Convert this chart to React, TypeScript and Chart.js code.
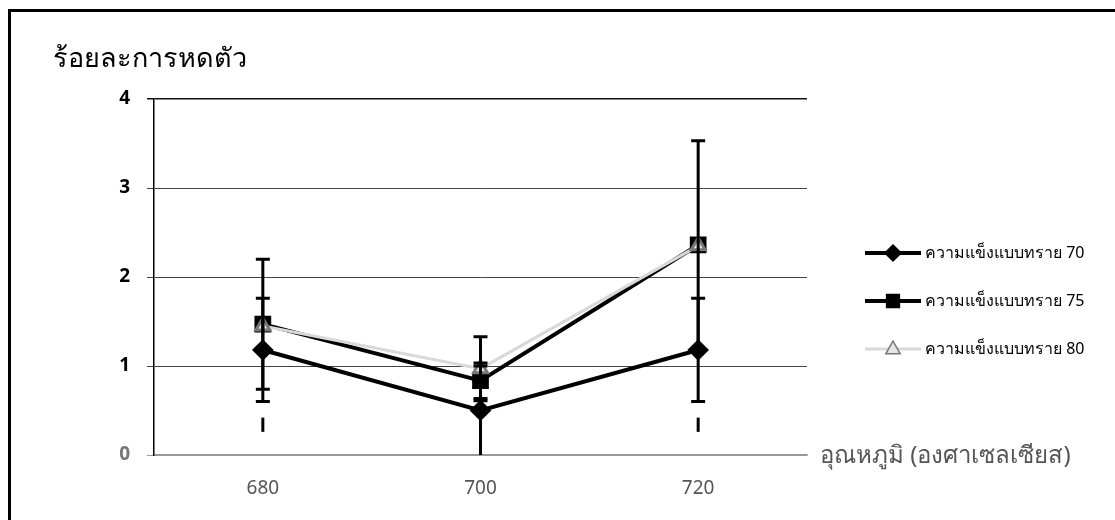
import React, { useEffect, useRef } from "react";
import { Chart, registerables } from "chart.js";

Chart.register(...registerables);

const categories = ["680", "700", "720"];
const seriesNames = ["ความแข็งแบบทราย 70", "ความแข็งแบบทราย 75", "ความแข็งแบบทราย 80"];
const s70 = [1.18, 0.5, 1.18];
const s75 = [1.47, 0.835, 2.36];
const s80 = [1.45, 0.97, 2.35];
const err70 = [0.58, 0.5, 0.58];
const err75 = [0.73, 0.2, 1.17];
const err80 = [0, 0.36, 0];
const strayLow = [0.26, null, 0.26];
const strayHigh = [0.42, null, 0.42];
const yTicks = [0, 1, 2, 3, 4];
const yTitle = "ร้อยละการหดตัว";
const xTitle = "อุณหภูมิ (องศาเซลเซียส)";

const FONT = "'Noto Sans', 'DejaVu Sans', sans-serif";

function drawMarker(ctx: CanvasRenderingContext2D, style: string, x: number, y: number, r: number, fill: string, stroke: string) {
  ctx.save();
  ctx.beginPath();
  if (style === "rectRot") {
    ctx.moveTo(x, y - r);
    ctx.lineTo(x + r, y);
    ctx.lineTo(x, y + r);
    ctx.lineTo(x - r, y);
    ctx.closePath();
  } else if (style === "rect") {
    ctx.rect(x - r * 0.8, y - r * 0.8, r * 1.6, r * 1.6);
  } else {
    ctx.moveTo(x, y - r);
    ctx.lineTo(x + r * 0.9, y + r * 0.6);
    ctx.lineTo(x - r * 0.9, y + r * 0.6);
    ctx.closePath();
  }
  ctx.fillStyle = fill;
  ctx.fill();
  ctx.lineWidth = 1.5;
  ctx.strokeStyle = stroke;
  ctx.stroke();
  ctx.restore();
}

const extras = {
  id: "extras",
  afterDatasetsDraw(chart: any) {
    const ctx: CanvasRenderingContext2D = chart.ctx;
    const xs = chart.scales.x;
    const ys = chart.scales.y;
    const sets = [
      { v: s70, e: err70 },
      { v: s75, e: err75 },
      { v: s80, e: err80 },
    ];
    ctx.save();
    ctx.strokeStyle = "#000";
    ctx.lineWidth = 3;
    sets.forEach((s) => {
      s.v.forEach((v, i) => {
        const e = s.e[i];
        if (!e) return;
        const x = xs.getPixelForValue(i);
        const yTop = ys.getPixelForValue(v + e);
        const yBot = ys.getPixelForValue(Math.max(0, v - e));
        ctx.beginPath();
        ctx.moveTo(x, yTop);
        ctx.lineTo(x, yBot);
        ctx.moveTo(x - 7, yTop);
        ctx.lineTo(x + 7, yTop);
        if (v - e > 0.001) {
          ctx.moveTo(x - 7, yBot);
          ctx.lineTo(x + 7, yBot);
        }
        ctx.stroke();
      });
    });
    strayLow.forEach((lo, i) => {
      const hi = strayHigh[i];
      if (lo == null || hi == null) return;
      const x = xs.getPixelForValue(i);
      ctx.beginPath();
      ctx.moveTo(x, ys.getPixelForValue(lo));
      ctx.lineTo(x, ys.getPixelForValue(hi));
      ctx.stroke();
    });
    ctx.restore();
  },
  afterDraw(chart: any) {
    const ctx: CanvasRenderingContext2D = chart.ctx;
    const ys = chart.scales.y;
    ctx.save();
    // frame
    ctx.strokeStyle = "#000";
    ctx.lineWidth = 3;
    ctx.beginPath();
    ctx.moveTo(9.5, 520);
    ctx.lineTo(9.5, 10.5);
    ctx.lineTo(1115, 10.5);
    ctx.stroke();
    // titles
    ctx.fillStyle = "#000";
    ctx.font = `27px ${FONT}`;
    ctx.textBaseline = "alphabetic";
    ctx.textAlign = "left";
    ctx.fillText(yTitle, 53, 67);
    ctx.fillStyle = "#555";
    ctx.font = `24px ${FONT}`;
    ctx.textBaseline = "middle";
    ctx.fillText(xTitle, 820, ys.getPixelForValue(0) + 1);
    // legend
    const ds = chart.data.datasets;
    const rows = [253, 301, 349];
    ds.forEach((d: any, i: number) => {
      const y = rows[i];
      ctx.strokeStyle = d.borderColor;
      ctx.lineWidth = d.borderWidth;
      ctx.beginPath();
      ctx.moveTo(865, y);
      ctx.lineTo(921, y);
      ctx.stroke();
      drawMarker(ctx, d.pointStyle, 893, y, 8, d.pointBackgroundColor, d.pointBorderColor);
      ctx.fillStyle = "#000";
      ctx.font = `16px ${FONT}`;
      ctx.textBaseline = "middle";
      ctx.textAlign = "left";
      ctx.fillText(d.label, 925, y);
    });
    ctx.restore();
  },
};

export default function App() {
  const ref = useRef<HTMLCanvasElement | null>(null);
  useEffect(() => {
    if (!ref.current) return;
    const chart = new Chart(ref.current, {
      type: "line",
      data: {
        labels: categories,
        datasets: [
          {
            label: seriesNames[0],
            data: s70,
            borderColor: "#000",
            borderWidth: 4,
            pointStyle: "rectRot",
            pointRadius: 8,
            pointBackgroundColor: "#000",
            pointBorderColor: "#000",
            order: 2,
          },
          {
            label: seriesNames[1],
            data: s75,
            borderColor: "#000",
            borderWidth: 4,
            pointStyle: "rect",
            pointRadius: 9,
            pointBackgroundColor: "#000",
            pointBorderColor: "#000",
            order: 1,
          },
          {
            label: seriesNames[2],
            data: s80,
            borderColor: "#d9d9d9",
            borderWidth: 3,
            pointStyle: "triangle",
            pointRadius: 8,
            pointBackgroundColor: "#e6e6e6",
            pointBorderColor: "#777",
            order: 0,
          },
        ] as any,
      },
      options: {
        animation: false,
        responsive: true,
        maintainAspectRatio: false,
        layout: { padding: { top: 99, right: 308, left: 0, bottom: 0 } },
        plugins: { legend: { display: false }, tooltip: { enabled: false }, title: { display: false } },
        scales: {
          x: {
            type: "category",
            offset: true,
            grid: { display: false },
            border: { color: "#999", width: 1.5 },
            ticks: { color: "#555", font: { family: FONT, size: 19 }, padding: 14 },
            afterFit: (s: any) => {
              s.height = 65;
            },
          },
          y: {
            min: 0,
            max: 4,
            afterBuildTicks: (s: any) => {
              s.ticks = yTicks.map((v) => ({ value: v }));
            },
            border: { color: "#000", width: 1.5 },
            grid: {
              color: (c: any) => (c.tick && c.tick.value === 4 ? "#111" : c.tick && c.tick.value === 0 ? "#999" : "#444"),
              lineWidth: (c: any) => (c.tick && c.tick.value === 4 ? 1.5 : 1),
              tickLength: 7,
            },
            ticks: {
              color: (c: any) => (c.tick && c.tick.value === 0 ? "#777" : "#000"),
              font: { family: FONT, size: 19, weight: "bold" },
              padding: 17,
            },
            afterFit: (s: any) => {
              s.width = 154;
            },
          },
        },
      },
      plugins: [extras],
    });
    return () => chart.destroy();
  }, []);
  return (
    <div style={{ position: "fixed", left: 0, top: 0, width: 1115, height: 520, background: "#fff" }}>
      <canvas ref={ref} />
    </div>
  );
}
